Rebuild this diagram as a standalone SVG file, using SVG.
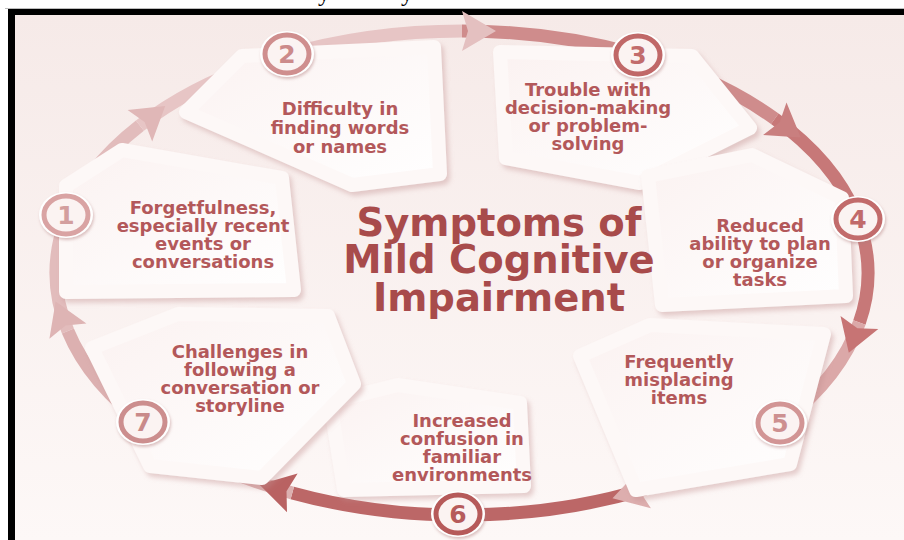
<svg xmlns="http://www.w3.org/2000/svg" width="904" height="540" viewBox="0 0 904 540">
  <defs>
    <linearGradient id="bg" x1="0" y1="0" x2="0" y2="1">
      <stop offset="0" stop-color="#f6eae8"/>
      <stop offset="1" stop-color="#fdf8f7"/>
    </linearGradient>
    <linearGradient id="cardFill" x1="0" y1="0" x2="1" y2="1">
      <stop offset="0" stop-color="#fbf2f1"/>
      <stop offset="1" stop-color="#ffffff"/>
    </linearGradient>
    <filter id="lift" x="-15%" y="-15%" width="135%" height="135%">
      <feDropShadow dx="3" dy="4" stdDeviation="2.5" flood-color="#c08c8c" flood-opacity="0.4"/>
    </filter>
    <filter id="haloShadow" x="-30%" y="-30%" width="160%" height="160%">
      <feDropShadow dx="1" dy="2" stdDeviation="1.5" flood-color="#b07878" flood-opacity="0.45"/>
    </filter>
  </defs>
  <style>
    .card{fill:url(#cardFill);stroke:#fdf8f7;stroke-width:14;stroke-linejoin:round;filter:url(#lift)}
    .lbl{font-family:"DejaVu Sans","Liberation Sans",sans-serif;font-weight:bold;font-size:18px;fill:#b3585a;text-anchor:middle}
    .title{font-family:"DejaVu Sans","Liberation Sans",sans-serif;font-weight:bold;font-size:38.5px;fill:#a84b4b;text-anchor:middle}
    .band{fill:none;stroke-width:13}
    .halo{fill:#ffffff;filter:url(#haloShadow)}
    .ring{fill:#fbf3f2;stroke-width:5}
    .num{font-family:"DejaVu Sans","Liberation Sans",sans-serif;font-weight:bold;font-size:25px;text-anchor:middle}
    .cap{font-family:"Liberation Serif",serif;font-size:24px;fill:#000000}
  </style>

  <!-- page and frame -->
  <rect x="0" y="0" width="904" height="540" fill="#ffffff"/>
  <rect x="15" y="15" width="889" height="525" fill="url(#bg)"/>
  <rect x="5" y="8" width="899" height="1" fill="#bdbdbd"/>
  <rect x="8" y="9" width="896" height="6" fill="#000000"/>
  <rect x="8" y="9" width="7" height="531" fill="#000000"/>
  <text class="cap" x="318" y="0.5">y</text>
  <text class="cap" x="401" y="0.5">y</text>

  <!-- ring of arrows -->
  <g id="connectors">
    <path class="band" stroke="#e2bcbc" d="M 67.9 331.1 A 406 242 0 0 1 139.9 125.7"/>
    <path class="band" stroke="#e7c5c5" d="M 139.9 125.7 A 406 242 0 0 1 462 31"/>
    <path class="band" stroke="#cf8c8c" d="M 462 31 A 406 242 0 0 1 774.8 118.8"/>
    <path class="band" stroke="#c77878" d="M 774.8 118.8 A 406 242 0 0 1 859.4 322.5"/>
    <path class="band" stroke="#dba8a8" d="M 859.4 322.5 A 406 242 0 0 1 645.1 489.0"/>
    <path class="band" stroke="#bc6767" d="M 645.1 489.0 A 406 242 0 0 1 292.3 492.9"/>
    <path class="band" stroke="#dcb0b0" d="M 292.3 492.9 A 406 242 0 0 1 67.9 331.1"/>
    <polygon fill="#e0b7b7" points="127.6,109.9 165.2,106.1 152.2,141.5 144.6,122.0"/>
    <polygon fill="#e4c0c0" points="462,11 496,31 462,51 468,31"/>
    <polygon fill="#c97f7f" points="786.5,102.6 800.8,137.5 763.1,135.0 779.7,122.3"/>
    <polygon fill="#c77474" points="878.3,329.1 848.8,352.7 840.5,315.9 857.4,328.2"/>
    <polygon fill="#ddaeae" points="650.9,508.2 612.5,498.2 639.3,469.8 639.4,490.7"/>
    <polygon fill="#b96262" points="287.0,512.2 259.4,484.4 297.6,473.6 286.5,491.3"/>
    <polygon fill="#deb4b4" points="49.4,338.8 55.6,301.5 86.4,323.4 65.6,325.6"/>
  </g>

  <!-- 1 -->
  <g id="node-1">
    <path class="card" d="M 66 292 L 66 186 L 122 150 L 282 178 L 294 290 Z"/>
    <text class="lbl" x="203" y="214">Forgetfulness,</text>
    <text class="lbl" x="203" y="232">especially recent</text>
    <text class="lbl" x="203" y="250">events or</text>
    <text class="lbl" x="203" y="268">conversations</text>
    <ellipse class="halo" cx="66" cy="215" rx="27" ry="23"/>
    <ellipse class="ring" stroke="#d9a3a3" cx="66" cy="215" rx="22" ry="19"/>
    <text class="num" fill="#d39e9e" x="66" y="224">1</text>
  </g>

  <!-- 2 -->
  <g id="node-2">
    <path class="card" d="M 186 112 L 242 56 L 434 47 L 440 174 L 352 185 Z"/>
    <text class="lbl" x="340" y="115">Difficulty in</text>
    <text class="lbl" x="340" y="134">finding words</text>
    <text class="lbl" x="340" y="153">or names</text>
    <ellipse class="halo" cx="287" cy="54" rx="27" ry="23"/>
    <ellipse class="ring" stroke="#cf8e8e" cx="287" cy="54" rx="22" ry="19"/>
    <text class="num" fill="#cc8a8a" x="287" y="63">2</text>
  </g>

  <!-- 3 -->
  <g id="node-3">
    <path class="card" d="M 500 52 L 692 56 L 750 128 L 640 183 L 506 158 Z"/>
    <text class="lbl" x="588" y="96">Trouble with</text>
    <text class="lbl" x="588" y="114">decision-making</text>
    <text class="lbl" x="588" y="132">or problem-</text>
    <text class="lbl" x="588" y="150">solving</text>
    <ellipse class="halo" cx="638" cy="55" rx="27" ry="23"/>
    <ellipse class="ring" stroke="#c06868" cx="638" cy="55" rx="22" ry="19"/>
    <text class="num" fill="#c26c6c" x="638" y="64">3</text>
  </g>

  <!-- 4 -->
  <g id="node-4">
    <path class="card" d="M 648 176 L 752 155 L 842 198 L 846 296 L 662 305 Z"/>
    <text class="lbl" x="760" y="232">Reduced</text>
    <text class="lbl" x="760" y="250">ability to plan</text>
    <text class="lbl" x="760" y="268">or organize</text>
    <text class="lbl" x="760" y="286">tasks</text>
    <ellipse class="halo" cx="858" cy="219" rx="27" ry="23"/>
    <ellipse class="ring" stroke="#c26b6b" cx="858" cy="219" rx="22" ry="19"/>
    <text class="num" fill="#c16a6a" x="858" y="228">4</text>
  </g>

  <!-- 5 -->
  <g id="node-5">
    <path class="card" d="M 580 356 L 650 325 L 824 334 L 790 464 L 636 490 Z"/>
    <text class="lbl" x="679" y="368">Frequently</text>
    <text class="lbl" x="679" y="386">misplacing</text>
    <text class="lbl" x="679" y="404">items</text>
    <ellipse class="halo" cx="780" cy="423" rx="27" ry="23"/>
    <ellipse class="ring" stroke="#d29595" cx="780" cy="423" rx="22" ry="19"/>
    <text class="num" fill="#cd9090" x="780" y="432">5</text>
  </g>

  <!-- 6 -->
  <g id="node-6">
    <path class="card" d="M 330 402 L 398 385 L 520 403 L 524 486 L 344 490 Z"/>
    <text class="lbl" x="462" y="427">Increased</text>
    <text class="lbl" x="462" y="445">confusion in</text>
    <text class="lbl" x="462" y="463">familiar</text>
    <text class="lbl" x="462" y="481">environments</text>
    <ellipse class="halo" cx="458" cy="514" rx="27" ry="23"/>
    <ellipse class="ring" stroke="#b65a5a" cx="458" cy="514" rx="22" ry="19"/>
    <text class="num" fill="#b65b5b" x="458" y="523">6</text>
  </g>

  <!-- 7 -->
  <g id="node-7">
    <path class="card" d="M 92 348 L 178 314 L 328 316 L 354 384 L 262 478 L 150 466 Z"/>
    <text class="lbl" x="240" y="358">Challenges in</text>
    <text class="lbl" x="240" y="376">following a</text>
    <text class="lbl" x="240" y="394">conversation or</text>
    <text class="lbl" x="240" y="412">storyline</text>
    <ellipse class="halo" cx="143" cy="422" rx="27" ry="23"/>
    <ellipse class="ring" stroke="#cc8e8e" cx="143" cy="422" rx="22" ry="19"/>
    <text class="num" fill="#c98a8a" x="143" y="431">7</text>
  </g>

  <!-- centre heading -->
  <g id="title">
    <text class="title" x="499" y="236">Symptoms of</text>
    <text class="title" x="499" y="273">Mild Cognitive</text>
    <text class="title" x="499" y="311">Impairment</text>
  </g>
</svg>
